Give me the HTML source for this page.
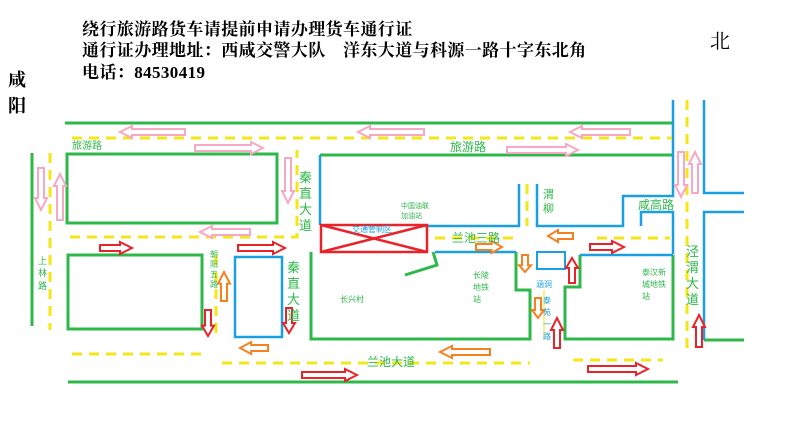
<!DOCTYPE html>
<html><head><meta charset="utf-8"><style>
body{margin:0;background:#fff;width:800px;height:429px;overflow:hidden}
svg{display:block}
.h{font-family:"Liberation Serif","Noto Serif CJK SC",serif;font-size:17px;font-weight:bold;fill:#000;letter-spacing:0.4px}
.g{font-family:"Liberation Sans","Noto Sans CJK SC",sans-serif;fill:#2eb84a}
.b{font-family:"Liberation Sans","Noto Sans CJK SC",sans-serif;fill:#1aa0e0}
</style></head><body>
<svg id="s" width="800" height="429" viewBox="0 0 800 429" xmlns="http://www.w3.org/2000/svg">
<text class="h" x="82" y="35">绕行旅游路货车请提前申请办理货车通行证</text>
<text class="h" x="82" y="56">通行证办理地址：西咸交警大队　洋东大道与科源一路十字东北角</text>
<text class="h" x="82" y="78">电话：84530419</text>
<text class="h" x="710" y="48" style="font-size:20px;font-weight:normal">北</text>
<text class="h" x="8" y="86" style="font-size:18px">咸</text>
<text class="h" x="8" y="112" style="font-size:18px">阳</text>
<g fill="none" stroke-width="3">
<g stroke="#2eb84a">
<line x1="65" y1="123" x2="673" y2="123"/>
<line x1="32" y1="153" x2="32" y2="326"/>
<rect x="67" y="154" width="210" height="69"/>
<rect x="68" y="255" width="134" height="74"/>
<line x1="68" y1="382" x2="678" y2="382"/>
<line x1="320" y1="155" x2="673" y2="155"/>
<polyline points="311,252 311,339 530,339 530,290 516,290 516,252"/>
<polyline points="433,252 437,265 405,275"/>
<polyline points="580,255 580,287 565,287 565,339 673,339 673,255"/>
<line x1="704" y1="340" x2="744" y2="340"/>
</g>
<g stroke="#1aa0e0" stroke-width="2.5">
<rect x="235" y="257" width="47" height="80"/>
<polyline points="673,100 673,196 623,196 623,226 537,226 537,184"/>
<polyline points="519,184 519,226 425,226"/>
<line x1="320" y1="155" x2="320" y2="225"/>
<line x1="435" y1="252" x2="516" y2="252"/>
<line x1="580" y1="255" x2="673" y2="255"/>
<polyline points="641,226 641,212 673,212 673,254"/>
<polyline points="704,100 704,193 744,193"/>
<polyline points="744,212 704,212 704,340"/>
<rect x="537" y="252" width="28" height="17" stroke-width="2"/>
</g>
<g stroke="#e8242a" stroke-width="2.5">
<rect x="321" y="225" width="106" height="27"/>
<line x1="321" y1="225" x2="427" y2="252"/>
<line x1="321" y1="252" x2="427" y2="225"/>
</g>
<g stroke="#f5e616" stroke-dasharray="10,7">
<line x1="72" y1="138" x2="672" y2="138"/>
<line x1="50" y1="153" x2="50" y2="330"/>
<polyline points="70,237 297,237 297,150"/>
<line x1="216" y1="255" x2="216" y2="335"/>
<line x1="72" y1="354" x2="204" y2="354"/>
<line x1="222" y1="363" x2="530" y2="363"/>
<line x1="573" y1="360" x2="663" y2="360"/>
<line x1="687" y1="100" x2="687" y2="350"/>
<line x1="435" y1="238" x2="520" y2="238"/>
<line x1="597" y1="238" x2="670" y2="238"/>
<line x1="527" y1="184" x2="527" y2="226"/>
</g>
<line x1="544" y1="290" x2="544" y2="340" stroke="#f5e616" stroke-width="1"/>
</g>
<g id="arr"></g>
<g class="g">
<text x="72" y="149" font-size="10">旅游路</text>
<text x="450" y="151" font-size="12">旅游路</text>
<text x="367" y="366" font-size="12">兰池大道</text>
<text x="452" y="242" font-size="12">兰池三路</text>
<text x="638" y="209" font-size="12">咸高路</text>
<text x="340" y="302" font-size="8">长兴村</text>
<text x="401" y="208" font-size="7">中国油联</text>
<text x="401" y="218" font-size="7">加油站</text>
<text x="642" y="275" font-size="8">泰汉新</text>
<text x="642" y="287" font-size="8">城地铁</text>
<text x="642" y="299" font-size="8">站</text>
<text x="473" y="278" font-size="8">长陵</text>
<text x="473" y="290" font-size="8">地铁</text>
<text x="473" y="302" font-size="8">站</text>
<g font-size="13"><text x="299" y="182">秦</text><text x="299" y="198">直</text><text x="299" y="214">大</text><text x="299" y="230">道</text>
<text x="287" y="272">秦</text><text x="287" y="288">直</text><text x="287" y="304">大</text><text x="287" y="320">道</text>
<text x="686" y="256">泾</text><text x="686" y="272">渭</text><text x="686" y="288">大</text><text x="686" y="304">道</text></g>
<g font-size="11"><text x="543" y="198">渭</text><text x="543" y="212">柳</text></g>
<g font-size="9"><text x="38" y="264">上</text><text x="38" y="276">林</text><text x="38" y="289">路</text></g>
<g font-size="8"><text x="210" y="257">朝</text><text x="210" y="267">阳</text><text x="210" y="277">五</text><text x="210" y="287">路</text></g>
</g>
<g class="b" font-size="8">
<text x="352" y="232">交通管制区</text>
<text x="536" y="287">涵洞</text>
<text x="543" y="303">泰</text><text x="543" y="315">苑</text><text x="543" y="327">一</text><text x="543" y="339">路</text>
</g>
</svg>
<script>
var A=[
[185,132,120,132,'#f7a8c4'],[195,148,263,148,'#f7a8c4'],[424,132,358,132,'#f7a8c4'],[630,132,570,132,'#f7a8c4'],
[507,150,578,150,'#f7a8c4'],[250,232,200,232,'#f7a8c4'],[41,168,41,210,'#f7a8c4'],[60,220,60,174,'#f7a8c4'],
[288,158,288,203,'#f7a8c4'],[681,152,681,197,'#f7a8c4'],[695,193,695,152,'#f7a8c4'],
[100,248,132,248,'#e8242a'],[238,248,285,248,'#e8242a'],[590,247,624,247,'#e8242a'],[302,375,357,375,'#e8242a'],
[588,369,648,369,'#e8242a'],[208,310,208,336,'#e8242a'],[289,308,289,333,'#e8242a'],[572,283,572,258,'#e8242a'],
[557,348,557,318,'#e8242a'],[699,347,699,315,'#e8242a'],
[224,301,224,272,'#f58220'],[268,348,240,348,'#f58220'],[573,236,548,236,'#f58220'],[476,247,502,247,'#f58220'],
[525,255,525,272,'#f58220'],[538,298,538,318,'#f58220'],[490,352,440,352,'#f58220']];
var g=document.getElementById('arr'),h='';
A.forEach(function(a){var dx=a[2]-a[0],dy=a[3]-a[1],L=Math.hypot(dx,dy),ux=dx/L,uy=dy/L,px=-uy,py=ux;
var hl=Math.min(12,L*0.4),sw=3,hw=6;
function P(t,o){return (a[0]+ux*t+px*o).toFixed(1)+','+(a[1]+uy*t+py*o).toFixed(1)}
var pts=[P(0,-sw),P(L-hl,-sw),P(L-hl,-hw),P(L,0),P(L-hl,hw),P(L-hl,sw),P(0,sw)].join(' ');
h+='<polygon points="'+pts+'" fill="#fff" stroke="'+a[4]+'" stroke-width="2"/>';});
g.innerHTML=h;
</script>
</body></html>
